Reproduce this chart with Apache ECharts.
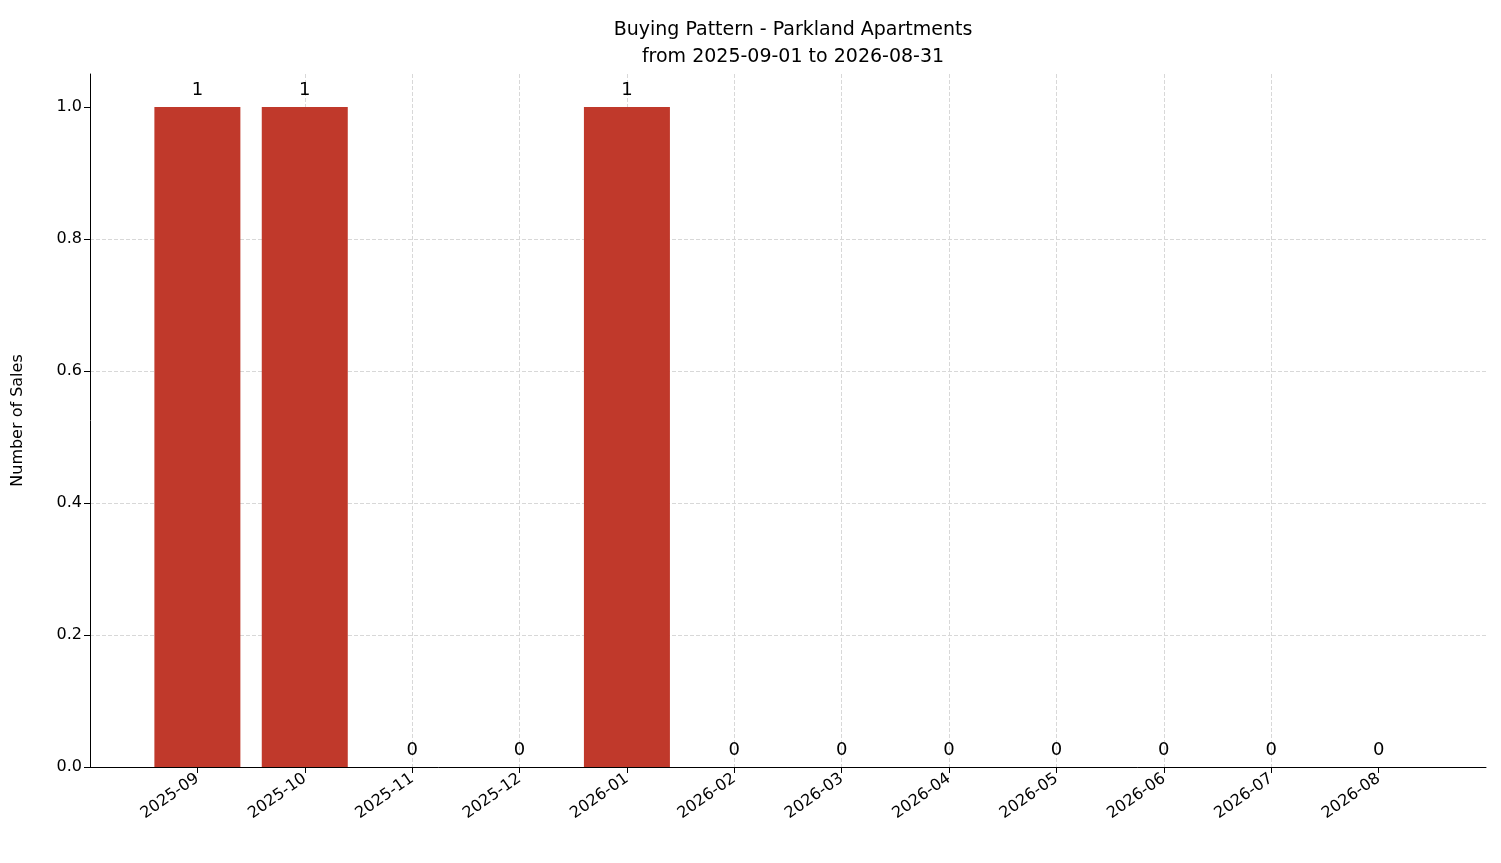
<!DOCTYPE html>
<html><head><meta charset="utf-8">
<script src="https://cdn.jsdelivr.net/npm/echarts@6/dist/echarts.min.js"></script>
<style>html,body{margin:0;padding:0;background:#fff}#c{width:1501px;height:863px}</style>
</head><body><div id="c"></div>
<script>
const categories = ['2025-09','2025-10','2025-11','2025-12','2026-01','2026-02','2026-03','2026-04','2026-05','2026-06','2026-07','2026-08'];
const sales = [1,1,0,0,1,0,0,0,0,0,0,0];
const yTicks = [0,0.2,0.4,0.6,0.8,1.0];

const chart = echarts.init(document.getElementById('c'));
const font = 'DejaVu Sans';
const idx = categories.map((c,i)=>i);
chart.setOption({
  backgroundColor:'#fff',
  animation:false,
  textStyle:{fontFamily:font},
  title:{text:'Buying Pattern - Parkland Apartments\nfrom 2025-09-01 to 2026-08-31',left:788,top:12,textAlign:'center',
    textStyle:{fontFamily:font,fontSize:19,fontWeight:'normal',color:'#000',lineHeight:27}},
  grid:{left:90,right:15,top:74,bottom:96},
  xAxis:{type:'value',min:-1,max:12,interval:1,
    axisLine:{onZero:false,lineStyle:{color:'#000'}},
    axisTick:{show:true,length:6,customValues:idx,lineStyle:{color:'#000'}},
    axisLabel:{color:'#000',fontSize:16,rotate:35,margin:10,customValues:idx,
      formatter:v=>categories[v]!==undefined?categories[v]:''},
    splitLine:{show:true,showMinLine:false,showMaxLine:false,lineStyle:{type:'dashed',color:'#d8d8d8'}}},
  yAxis:{type:'value',min:0,max:1.05,interval:0.2,
    name:'Number of Sales',nameLocation:'middle',nameGap:64,nameRotate:90,
    nameTextStyle:{color:'#000',fontSize:16,fontFamily:font},
    axisLine:{show:true,onZero:false,lineStyle:{color:'#000'}},
    axisTick:{show:true,length:6,customValues:yTicks,lineStyle:{color:'#000'}},
    axisLabel:{color:'#000',fontSize:16,customValues:yTicks,formatter:v=>v.toFixed(1)},
    splitLine:{show:true,showMinLine:false,showMaxLine:false,lineStyle:{type:'dashed',color:'#d8d8d8'}}},
  series:[{type:'bar',barWidth:86,z:1,
    itemStyle:{color:'#c0392b'},
    label:{show:true,position:'top',distance:8,color:'#000',fontSize:18,formatter:p=>String(p.value[1])},
    data:sales.map((v,i)=>[i,v])}]
});
</script></body></html>
